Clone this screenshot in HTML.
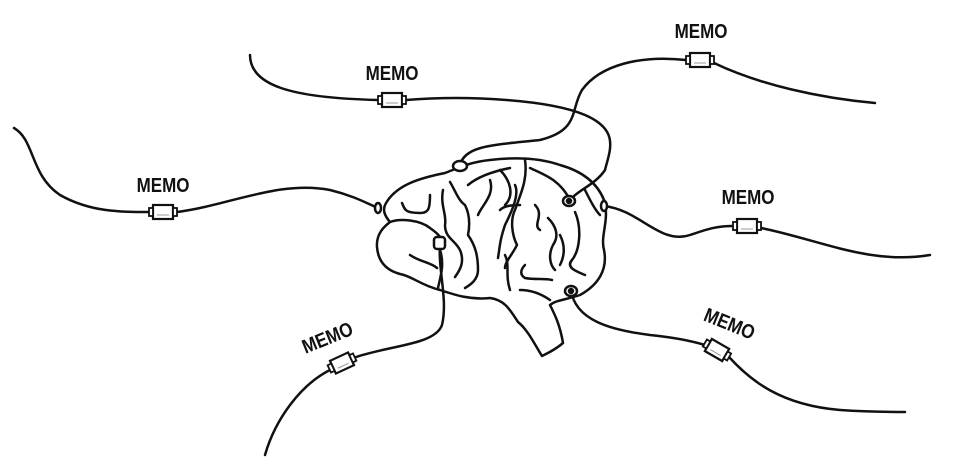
<!DOCTYPE html>
<html><head><style>
html,body{margin:0;padding:0;background:#fff;}
svg{display:block;}
text{font-family:"Liberation Sans",sans-serif;font-size:20px;font-weight:bold;fill:#111;}
</style></head><body>
<svg width="957" height="471" viewBox="0 0 957 471" xmlns="http://www.w3.org/2000/svg">
<defs>
<g id="m">
<rect x="-10" y="-7" width="20" height="14" fill="#fff" stroke="#111" stroke-width="2.2"/>
<rect x="-14" y="-4" width="4" height="8" fill="#fff" stroke="#111" stroke-width="1.8"/>
<rect x="10" y="-4" width="4" height="8" fill="#fff" stroke="#111" stroke-width="1.8"/>
<line x1="-6" y1="3" x2="6" y2="3" stroke="#999" stroke-width="1"/>
</g>
</defs>
<g fill="none" stroke="#111" stroke-width="2.5" stroke-linecap="round" stroke-linejoin="round">
<path d="M14,128 C35,140 30,175 60,195 C90,212 120,212 150,212 M177,212 C230,205 280,180 330,190 C355,196 370,205 378,208"/>
<path d="M250,55 C250,85 290,98 378,100 M406,100 C470,95 550,100 585,115 C620,130 610,150 605,170 C595,185 578,190 570,200"/>
<path d="M875,103 C820,98 760,85 714,63 M686,60 C640,55 600,65 582,90 C570,110 580,130 540,140 C495,145 465,145 460,165"/>
<path d="M604,206 C640,210 660,245 690,235 C705,230 715,226 733,226 M761,228 C820,240 870,265 930,255"/>
<path d="M571,290 C575,320 610,330 650,335 C680,338 695,342 705,345 M729,357 C750,380 780,405 840,410 C870,412 890,412 905,412"/>
<path d="M440,245 C438,270 448,300 442,325 C435,345 390,345 353,358 M330,370 C300,385 275,420 265,455"/>
<path d="M385,205 C395,185 420,178 445,173 C458,168 470,162 490,160 C515,157 540,158 560,165 C585,172 598,185 604,200 C610,220 600,235 604,250 C608,270 598,285 580,295 C565,300 556,300 550,305 C555,315 560,325 563,343 C555,350 548,353 542,356 C535,345 528,330 518,322 C510,310 505,300 490,298 C470,300 455,295 440,290 C420,285 412,276 400,274 C385,270 378,260 377,247 C376,233 385,226 390,222 C384,215 383,210 385,205 Z"/>
<path d="M390,222 C400,218 420,220 430,228 C440,235 445,240 440,250 C445,265 440,278 438,288"/>
<path d="M410,255 C420,262 430,262 437,268"/>
<path d="M402,203 C405,210 405,213 420,213 C428,213 430,210 430,195"/>
<path d="M443,190 C440,205 447,215 445,225 C445,238 455,240 460,250 C465,262 460,270 455,277"/>
<path d="M450,182 C455,190 458,200 465,205 C470,215 470,225 468,235 C475,245 478,255 478,270 C478,280 470,285 465,288"/>
<path d="M468,185 C480,175 500,170 510,168 M490,180 C495,195 482,205 478,215 M500,210 C505,205 515,205 520,205"/>
<path d="M500,170 C510,180 515,195 505,205 M515,185 C520,195 510,215 505,225 C500,240 500,245 498,258"/>
<path d="M525,160 C528,180 520,195 515,210 C510,220 512,235 517,245 C512,255 505,262 505,268"/>
<path d="M535,205 C545,215 532,225 540,230"/>
<path d="M525,265 C520,270 520,275 525,278 C535,280 545,278 552,280"/>
<path d="M548,218 C555,225 560,235 553,245 C548,255 550,265 555,270"/>
<path d="M575,212 C582,228 580,250 572,260 C565,268 578,272 585,275"/>
<path d="M520,290 C530,290 540,293 550,300 M505,255 C510,265 505,275 510,290"/>
<path d="M530,168 C545,175 560,180 570,200 M585,190 C590,200 595,210 600,215"/>
<path d="M560,235 C565,245 565,255 560,265"/>
<ellipse cx="460" cy="166" rx="7" ry="5" fill="#fff"/>
<ellipse cx="569" cy="201" rx="6" ry="5" fill="#fff"/>
<circle cx="569" cy="201" r="2" fill="#111"/>
<rect x="434" y="237" width="11" height="12" rx="3" fill="#fff"/>
<ellipse cx="571" cy="291" rx="6" ry="5" fill="#fff"/>
<circle cx="571" cy="291" r="2" fill="#111"/>
<ellipse cx="378" cy="208" rx="3" ry="5" fill="#fff"/>
<ellipse cx="604" cy="206" rx="3" ry="5" fill="#fff"/>
</g>
<use href="#m" x="163" y="212"/>
<use href="#m" x="392" y="100"/>
<use href="#m" x="700" y="60"/>
<use href="#m" x="747" y="226"/>
<use href="#m" transform="translate(342,363) rotate(-25)"/>
<use href="#m" transform="translate(717,350) rotate(30)"/>
<text transform="translate(163,192) scale(0.85,1)" text-anchor="middle">MEMO</text>
<text transform="translate(392,80) scale(0.85,1)" text-anchor="middle">MEMO</text>
<text transform="translate(701,38) scale(0.85,1)" text-anchor="middle">MEMO</text>
<text transform="translate(748,204) scale(0.85,1)" text-anchor="middle">MEMO</text>
<text transform="translate(330,344) rotate(-22) scale(0.85,1)" text-anchor="middle">MEMO</text>
<text transform="translate(727,330) rotate(22) scale(0.85,1)" text-anchor="middle">MEMO</text>
</svg>
</body></html>
